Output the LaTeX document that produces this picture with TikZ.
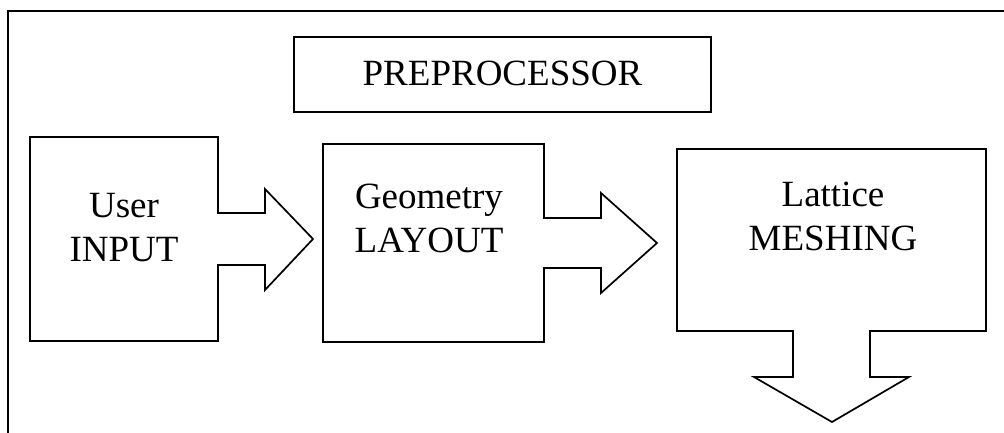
\documentclass[tikz,border=0pt]{standalone}
\usepackage{fontspec}
\setmainfont{Liberation Serif}

\begin{document}
\begin{tikzpicture}[x=1pt, y=-1pt, line width=1.7pt, line join=miter,
        blocktext/.style={font=\fontsize{37}{44}\selectfont, align=center,
                          inner sep=0pt, anchor=base}]
        \useasboundingbox (0, 0) rectangle (1004, 433);
        % outer frame, cut off at right and bottom
        \draw (1010, 11) -- (8, 11) -- (8, 440);
        \draw (294, 37) rectangle (711, 112);
        \node[blocktext] (pre) at (502.5, 86) {PREPROCESSOR};
        % user input with arrow to the right
        \draw (30, 137) -- (218, 137) -- (218, 213) -- (265, 213)
            -- (265, 189) -- (313, 239) -- (265, 290) -- (265, 265)
            -- (218, 265) -- (218, 341) -- (30, 341) -- cycle;
        \node[blocktext] (user) at (124, 261) {User\\INPUT};
        % geometry layout with arrow to the right
        \draw (323, 144) -- (544, 144) -- (544, 218) -- (601, 218)
            -- (601, 193) -- (657, 243) -- (601, 293) -- (601, 268)
            -- (544, 268) -- (544, 342) -- (323, 342) -- cycle;
        \node[blocktext] (geom) at (429, 252) {Geometry\\LAYOUT};
        % lattice meshing with arrow downwards
        \draw (677, 149) -- (986, 149) -- (986, 331) -- (870, 331)
            -- (870, 377) -- (909, 377) -- (832, 422) -- (754, 377)
            -- (793, 377) -- (793, 331) -- (677, 331) -- cycle;
        \node[blocktext] (mesh) at (833, 250) {Lattice\\MESHING};
    \end{tikzpicture}
\end{document}
